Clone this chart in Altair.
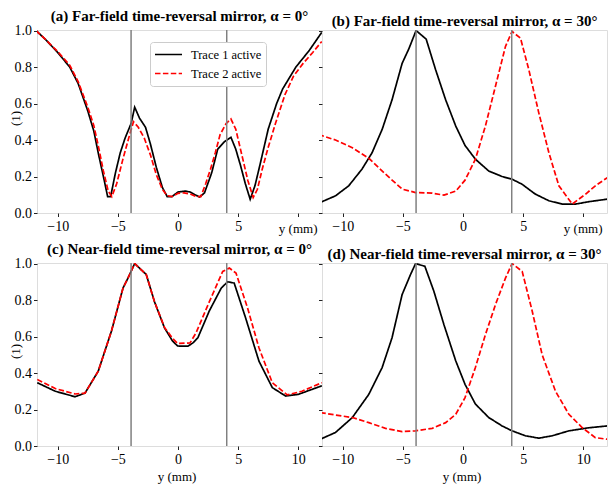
import altair as alt
import pandas as pd

SERIES = ["Trace 1 active", "Trace 2 active"]
TITLES = [
    "(a) Far-field time-reversal mirror, α = 0°",
    "(b) Far-field time-reversal mirror, α = 30°",
    "(c) Near-field time-reversal mirror, α = 0°",
    "(d) Near-field time-reversal mirror, α = 30°",
]
MIRRORS = [-3.9, 4.05]
X_TICKS = [-10, -5, 0, 5, 10]
Y_TICKS = [0.0, 0.2, 0.4, 0.6, 0.8, 1.0]

# Panel (a)
a1_x = [-11.8, -11.0, -10.0, -9.0, -8.3, -7.5, -7.0, -6.6, -6.2, -5.85, -5.6, -5.2, -4.8, -4.4, -3.9, -3.6,
        -3.2, -2.7, -2.3, -1.8, -1.3, -0.9, -0.5, 0.0, 0.6, 1.0, 1.4, 1.8, 2.2, 2.8, 3.3, 3.85, 4.4, 4.8,
        5.2, 5.6, 6.0, 6.4, 6.8, 7.5, 8.2, 8.7, 9.8, 10.9, 11.95]
a1_v = [1.0, 0.95, 0.88, 0.80, 0.71, 0.56, 0.45, 0.32, 0.20, 0.09, 0.09, 0.22, 0.33, 0.41, 0.49, 0.58,
        0.52, 0.47, 0.38, 0.25, 0.14, 0.09, 0.09, 0.115, 0.12, 0.115, 0.10, 0.088, 0.11, 0.22, 0.35, 0.39, 0.415, 0.35,
        0.26, 0.16, 0.075, 0.15, 0.26, 0.46, 0.60, 0.68, 0.80, 0.89, 0.99]
a2_x = [-11.8, -11.0, -10.0, -9.0, -8.3, -7.5, -7.0, -6.6, -6.2, -5.8, -5.5, -5.1, -4.6, -4.1, -3.7, -3.3,
        -2.8, -2.3, -1.8, -1.3, -0.9, -0.5, 0.0, 0.5, 1.0, 1.5, 1.9, 2.3, 2.7, 3.1, 3.5, 4.0, 4.4, 4.8,
        5.3, 5.8, 6.25, 6.6, 7.0, 7.5, 8.1, 8.9, 9.6, 10.4, 11.2, 11.95]
a2_v = [1.0, 0.95, 0.885, 0.81, 0.72, 0.58, 0.48, 0.36, 0.23, 0.12, 0.09, 0.16, 0.29, 0.41, 0.50, 0.47,
        0.41, 0.32, 0.21, 0.13, 0.095, 0.09, 0.108, 0.11, 0.105, 0.09, 0.09, 0.16, 0.24, 0.33, 0.43, 0.49, 0.515, 0.46,
        0.32, 0.18, 0.085, 0.13, 0.24, 0.36, 0.49, 0.65, 0.75, 0.82, 0.88, 0.94]

# Panel (b)
b1_x = [-11.86, -10.6, -9.5, -8.4, -7.56, -6.72, -5.9, -5.06, -4.5, -3.9, -3.06, -2.28, -1.44, -0.6, 0.17,
        1.03, 2.14, 3.25, 4.08, 4.9, 6.0, 7.14, 8.25, 9.36, 10.47, 12.0]
b1_v = [0.058, 0.094, 0.149, 0.24, 0.33, 0.458, 0.62, 0.82, 0.90, 1.0, 0.953, 0.786, 0.62, 0.476, 0.37,
        0.295, 0.23, 0.20, 0.185, 0.158, 0.104, 0.067, 0.049, 0.049, 0.062, 0.076]
b2_x = [-12.0, -10.6, -9.2, -7.83, -6.44, -5.06, -3.94, -2.56, -1.58, -0.6, 0.17, 1.03, 1.86, 2.7, 3.53,
        4.08, 4.78, 5.47, 6.3, 7.14, 7.97, 9.08, 10.2, 11.0, 12.0]
b2_v = [0.43, 0.40, 0.358, 0.30, 0.213, 0.131, 0.112, 0.109, 0.098, 0.12, 0.18, 0.295, 0.476, 0.695, 0.913,
        0.995, 0.958, 0.786, 0.549, 0.33, 0.149, 0.049, 0.104, 0.149, 0.194]

# Panel (c)
c1_x = [-11.7, -10.2, -8.56, -7.73, -6.63, -5.53, -4.57, -4.16, -3.6, -2.64, -1.95, -1.12, -0.45, -0.03,
        0.83, 1.24, 1.65, 2.6, 3.6, 4.13, 4.67, 5.63, 6.73, 7.84, 8.94, 10.0, 11.96]
c1_v = [0.347, 0.30, 0.27, 0.29, 0.41, 0.63, 0.866, 0.92, 1.0, 0.94, 0.79, 0.647, 0.575, 0.548,
        0.547, 0.565, 0.593, 0.74, 0.866, 0.90, 0.893, 0.70, 0.465, 0.32, 0.274, 0.283, 0.33]
c2_x = [-11.7, -10.2, -8.56, -7.73, -6.63, -5.53, -4.57, -4.16, -3.6, -2.64, -1.95, -1.12, -0.45, -0.03,
        1.0, 1.5, 2.6, 3.72, 4.27, 4.82, 5.78, 6.73, 7.84, 9.08, 10.3, 11.96]
c2_v = [0.365, 0.315, 0.285, 0.29, 0.41, 0.63, 0.866, 0.92, 1.0, 0.94, 0.79, 0.65, 0.59, 0.562,
        0.565, 0.62, 0.79, 0.957, 0.975, 0.948, 0.757, 0.538, 0.347, 0.28, 0.30, 0.347]

# Panel (d)
d1_x = [-11.86, -10.6, -9.2, -7.83, -6.72, -5.9, -5.06, -4.36, -3.94, -3.17, -2.42, -1.58, -0.6, 0.17,
        1.03, 2.14, 3.25, 4.08, 5.19, 6.3, 7.42, 8.8, 10.47, 12.0]
d1_v = [0.037, 0.074, 0.156, 0.283, 0.43, 0.593, 0.83, 0.94, 1.0, 0.985, 0.848, 0.664, 0.466, 0.338,
        0.23, 0.156, 0.11, 0.083, 0.056, 0.043, 0.056, 0.083, 0.10, 0.11]
d2_x = [-11.86, -10.6, -9.2, -7.83, -6.44, -5.06, -3.94, -2.56, -1.44, -0.6, 0.17, 1.03, 1.86, 2.7, 3.53,
        4.08, 4.92, 5.75, 6.58, 7.69, 8.8, 9.92, 11.0, 12.0]
d2_v = [0.183, 0.17, 0.156, 0.128, 0.097, 0.079, 0.083, 0.097, 0.128, 0.174, 0.265, 0.43, 0.61, 0.775, 0.92,
        1.0, 0.957, 0.74, 0.50, 0.30, 0.174, 0.10, 0.046, 0.037]

PANELS = [(a1_x, a1_v, a2_x, a2_v), (b1_x, b1_v, b2_x, b2_v), (c1_x, c1_v, c2_x, c2_v), (d1_x, d1_v, d2_x, d2_v)]

FONT = "Liberation Serif"
W, H = 285, 183
XDOM = [-11.72, 11.97]
AXC = "#222222"


def make_panel(i):
    x1, v1, x2, v2 = PANELS[i]
    df = pd.concat([
        pd.DataFrame({"y": x1, "v": v1, "series": SERIES[0]}),
        pd.DataFrame({"y": x2, "v": v2, "series": SERIES[1]}),
    ])
    left = i % 2 == 0
    top = i < 2

    xaxis_kw = dict(values=X_TICKS, format="d", labelFont=FONT, labelFontSize=14, labelColor="black",
                    domain=False, tickColor=AXC, tickSize=3.5, labelPadding=3, grid=False,
                    title="y (mm)", titleFont=FONT, titleFontSize=13, titleFontWeight="normal",
                    titleColor="black")
    if top:
        xaxis_kw.update(labelExpr="datum.value == 10 ? '' : datum.label", titleX=W - 5, titleY=15,
                        titleAlign="right", titleBaseline="middle")
    else:
        xaxis_kw.update(titleX=W / 2 - 3, titleY=30, titleAlign="center", titleBaseline="middle")

    yaxis_kw = dict(values=Y_TICKS, format=".1f", labelFont=FONT, labelFontSize=14, labelColor="black",
                    domain=False, tickColor=AXC, tickSize=3.5, labelPadding=2, grid=False)
    if left:
        yaxis_kw.update(title="(1)", titleFont=FONT, titleFontSize=13, titleFontWeight="normal",
                        titleColor="black", titleX=-22, titleY=88, titleBaseline="middle")
    else:
        yaxis_kw.update(labels=False, title=None)

    x_enc = alt.X("y:Q", scale=alt.Scale(domain=XDOM, nice=False, zero=False), axis=alt.Axis(**xaxis_kw))
    y_enc = alt.Y("v:Q", scale=alt.Scale(domain=[0, 1.003], nice=False, zero=False), axis=alt.Axis(**yaxis_kw))

    if i == 0:
        leg = alt.Legend(orient="none", legendX=113, legendY=12, title=None, symbolType="stroke",
                         symbolSize=729, symbolStrokeWidth=1.7, clipHeight=17, labelFont=FONT,
                         labelFontSize=12.5, labelColor="black", strokeColor="#cccccc", fillColor="white",
                         padding=4, cornerRadius=3, rowPadding=2, labelOffset=8)
    else:
        leg = None

    vdf = pd.DataFrame({"y": MIRRORS})
    vlines = alt.Chart(vdf).mark_rule(color="#808080", strokeWidth=1.5).encode(
        x=alt.X("y:Q", scale=alt.Scale(domain=XDOM, nice=False, zero=False)))
    lines = alt.Chart(df).mark_line(strokeWidth=1.7, clip=True).encode(
        x=x_enc, y=y_enc,
        color=alt.Color("series:N", scale=alt.Scale(domain=SERIES, range=["black", "#ff0000"]), legend=leg),
        strokeDash=alt.StrokeDash("series:N", scale=alt.Scale(domain=SERIES, range=[[1, 0], [5.5, 2.4]]), legend=leg),
    )
    return alt.layer(lines, vlines).properties(
        width=W, height=H,
        title=alt.TitleParams(TITLES[i], font=FONT, fontSize=15, fontWeight="bold", color="black",
                              offset=0, frame="group"),
    )


chart = alt.concat(*[make_panel(i) for i in range(4)], columns=2).properties(
    spacing={"row": 50, "column": 0}, bounds="flush",
    padding={"left": 0, "top": 0, "right": 0, "bottom": 0},
).resolve_scale(color="independent", strokeDash="independent").configure_view(
    stroke=AXC, strokeWidth=1.2
).configure(background="white")

chart.save("out.html", embed_options={"renderer": "svg", "actions": False})
